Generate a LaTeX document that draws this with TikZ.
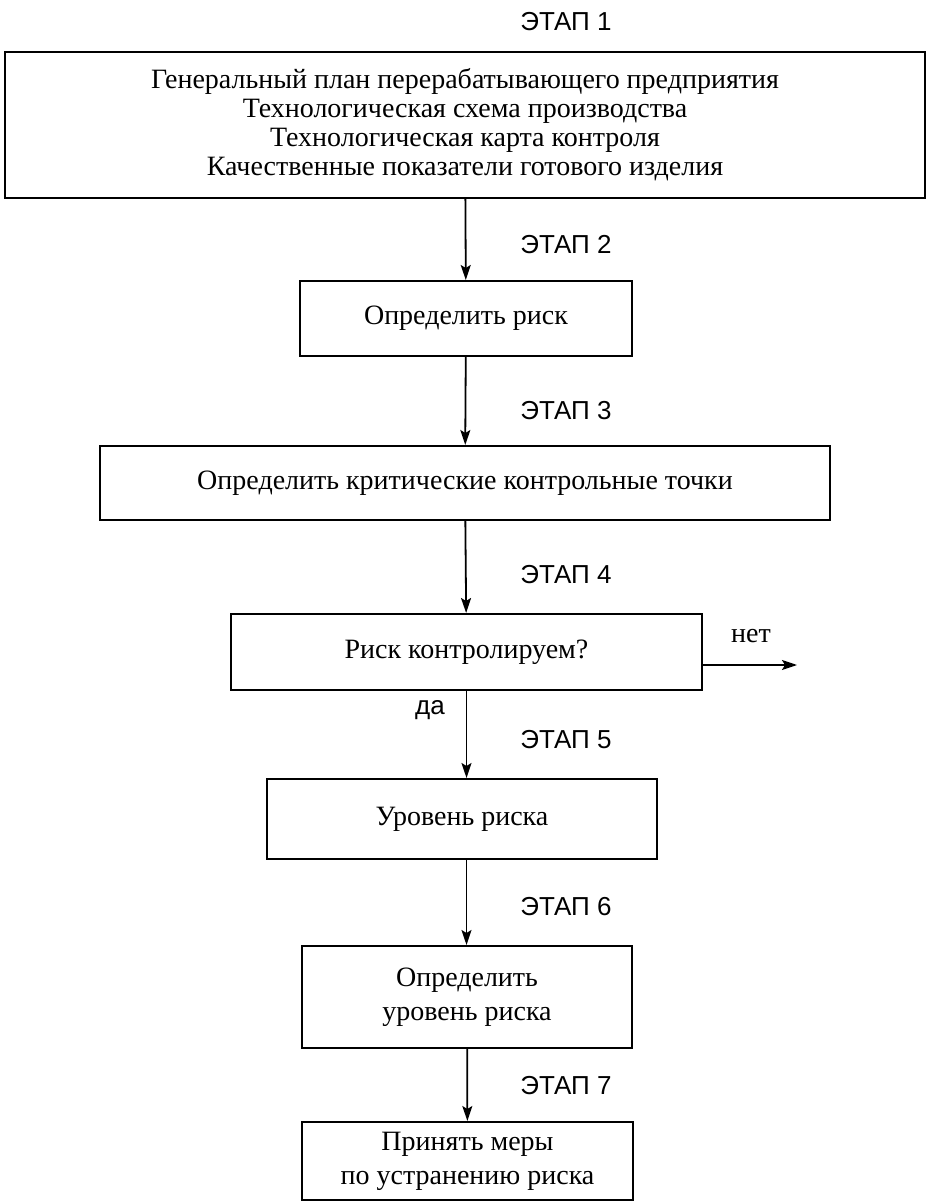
\documentclass[tikz,border=0pt]{standalone}
\usepackage{fontspec}
\setmainfont{Liberation Serif}
\setsansfont{Liberation Sans}
\usetikzlibrary{arrows.meta}

\begin{document}
\begin{tikzpicture}[x=0.5pt, y=-0.5pt,
	box/.style={draw, line width=1pt, align=center, inner sep=0pt,
		font=\fontsize{14}{14.5}\selectfont},
	twoline/.style={font=\fontsize{14}{17}\selectfont},
	stage/.style={font=\sffamily\fontsize{13}{15}\selectfont},
	note/.style={font=\fontsize{14}{15}\selectfont},
	flow/.style={-{Stealth[length=7.5pt, width=5pt, inset=1.5pt]}, line width=0.9pt}]
			%%%%% START %%%%%
			
			\useasboundingbox (0, 0) rectangle (931, 1202);
			
			\node[box, minimum width=460pt, minimum height=73pt] (plan) at (465, 125)
				{Генеральный план перерабатывающего предприятия\\
				Технологическая схема производства\\
				Технологическая карта контроля\\
				Качественные показатели готового изделия};
			\node[box, minimum width=166pt, minimum height=37.5pt] (risk) at (466, 318.5) {Определить риск};
			\node[box, minimum width=365pt, minimum height=37pt] (ccp) at (465, 483) {Определить критические контрольные точки};
			\node[box, minimum width=235.5pt, minimum height=38pt] (ctrl) at (466.5, 652) {Риск контролируем?};
			\node[box, minimum width=195pt, minimum height=40pt] (level) at (462, 819) {Уровень риска};
			\node[box, twoline, minimum width=165pt, minimum height=51pt] (deflevel) at (467, 997) {Определить\\уровень риска};
			\node[box, twoline, minimum width=165.5pt, minimum height=39pt] (measures) at (467.5, 1161) {Принять меры\\по устранению риска};
			
			\node[stage] (s1) at (566, 22) {ЭТАП 1};
			\node[stage] (s2) at (566, 245) {ЭТАП 2};
			\node[stage] (s3) at (566, 411) {ЭТАП 3};
			\node[stage] (s4) at (566, 575) {ЭТАП 4};
			\node[stage] (s5) at (566, 740) {ЭТАП 5};
			\node[stage] (s6) at (566, 907) {ЭТАП 6};
			\node[stage] (s7) at (566, 1086) {ЭТАП 7};
			
			\node[note] (no) at (751, 636) {нет};
			\node[note, font=\sffamily\fontsize{13}{15}\selectfont] (yes) at (430, 710) {да};
			\coordinate (noend) at (797, 665);
			
			\draw[flow] (plan) -- (risk);
			\draw[flow] (risk) -- (ccp);
			\draw[flow] (ccp) -- (ctrl);
			\draw[flow] (ctrl) -- (level.north -| ctrl.south);
			\draw[flow] (level.south -| ctrl.south) -- (deflevel.north -| ctrl.south);
			\draw[flow] (deflevel) -- (measures);
			\draw[flow] (ctrl.east |- noend) -- (noend);
			
			%%%%% END %%%%%
		\end{tikzpicture}
\end{document}
